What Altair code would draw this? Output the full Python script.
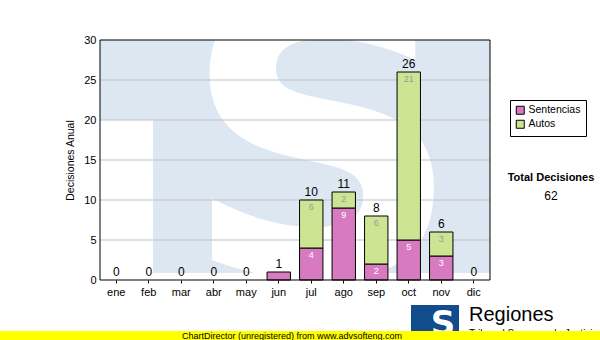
import altair as alt
import pandas as pd

months = ["ene", "feb", "mar", "abr", "may", "jun", "jul", "ago", "sep", "oct", "nov", "dic"]
sentencias = [0, 0, 0, 0, 0, 1, 4, 9, 2, 5, 3, 0]
autos = [0, 0, 0, 0, 0, 0, 6, 2, 6, 21, 3, 0]
series = ["Sentencias", "Autos"]
colors = ["#d87abf", "#cde593"]
y_ticks = [0, 5, 10, 15, 20, 25, 30]
grid_vals = [5, 10, 15, 20, 25]
total_title = "Total Decisiones"
y_title = "Decisiones Anual"
footer = "ChartDirector (unregistered) from www.advsofteng.com"
brand = "Regiones"
brand_sub = "Tribunal Supremo de Justicia"

FONT = "Liberation Sans"
W, H = 390, 240

rows = []
for m, s, a in zip(months, sentencias, autos):
    rows.append(dict(mes=m, serie="Sentencias", valor=s, ini=0, fin=s, ord=0))
    rows.append(dict(mes=m, serie="Autos", valor=a, ini=s, fin=s + a, ord=1))
df = pd.DataFrame(rows)
bars_df = df[df.valor > 0]
tot_df = pd.DataFrame({"mes": months, "total": [s + a for s, a in zip(sentencias, autos)]})
grid_df = pd.DataFrame({"g": grid_vals})
one = pd.DataFrame({"k": [0]})
grand_total = pd.DataFrame({"t": [str(sum(sentencias) + sum(autos))]})

xscale = alt.Scale(domain=months, paddingInner=0.28, paddingOuter=0.14)
yscale = alt.Scale(domain=[0, 30], nice=False)
yaxis = alt.Axis(values=y_ticks, grid=False, domain=False, ticks=False,
                 labelFont=FONT, labelFontSize=11, labelColor="black",
                 labelPadding=4, titleFont=FONT, titleFontSize=10.5,
                 titleFontWeight="normal", titleColor="black", titlePadding=8)

xenc = alt.X("mes:N", sort=months, scale=xscale,
             axis=alt.Axis(title=None, labelAngle=0, labelFont=FONT, labelFontSize=11,
                           labelColor="black", domain=False, ticks=True, tickSize=3,
                           tickColor="black", labelPadding=3))

# watermark
wm_blue = alt.Chart(one).mark_rect(color="#dde7f1").encode(
    x=alt.value(0), x2=alt.value(W), y=alt.value(0), y2=alt.value(233))
wm_white = alt.Chart(one).mark_rect(color="white").encode(
    x=alt.value(0), x2=alt.value(53), y=alt.value(80), y2=alt.value(H))
wm_s = alt.Chart(one).mark_text(text="S", font="DejaVu Sans", fontWeight="bold", fontSize=390,
                                color="white", clip=True, align="center",
                                baseline="alphabetic").encode(x=alt.value(222), y=alt.value(235))

grid = alt.Chart(grid_df).mark_rule(color="#c0c0c0", strokeWidth=1).encode(
    y=alt.Y("g:Q", scale=yscale, title=y_title, axis=yaxis))

bars = alt.Chart(bars_df).mark_bar(stroke="black", strokeWidth=1).encode(
    x=xenc,
    y=alt.Y("ini:Q", scale=yscale, title=y_title, axis=yaxis),
    y2="fin:Q",
    color=alt.Color("serie:N", scale=alt.Scale(domain=series, range=colors),
                    legend=alt.Legend(title=None, orient="none", legendX=410, legendY=60,
                                      fillColor="white", strokeColor="black", padding=5,
                                      symbolType="square", symbolSize=64,
                                      symbolStrokeColor="black", symbolStrokeWidth=1,
                                      labelFont=FONT, labelFontSize=10.5, labelColor="black",
                                      rowPadding=1, labelOffset=3)),
)

inner_s = alt.Chart(df[(df.serie == "Sentencias") & (df.valor >= 2)]).mark_text(
    font=FONT, fontSize=9, color="white", baseline="top", dy=3).encode(
    x=alt.X("mes:N", sort=months, scale=xscale),
    y=alt.Y("fin:Q", scale=yscale, title=y_title, axis=yaxis),
    text="valor:Q")
inner_a = alt.Chart(df[(df.serie == "Autos") & (df.valor >= 2)]).mark_text(
    font=FONT, fontSize=9, color="#9a9a9a", baseline="top", dy=3).encode(
    x=alt.X("mes:N", sort=months, scale=xscale),
    y=alt.Y("fin:Q", scale=yscale, title=y_title, axis=yaxis),
    text="valor:Q")
totals = alt.Chart(tot_df).mark_text(font=FONT, fontSize=12, color="black",
                                      baseline="bottom", dy=-1).encode(
    x=alt.X("mes:N", sort=months, scale=xscale),
    y=alt.Y("total:Q", scale=yscale, title=y_title, axis=yaxis),
    text="total:Q")

border = alt.Chart(one).mark_rect(fillOpacity=0, stroke="black", strokeWidth=1).encode(
    x=alt.value(0), x2=alt.value(W), y=alt.value(0), y2=alt.value(H))

tot_title = alt.Chart(one).mark_text(text=total_title, font=FONT, fontSize=11, fontWeight="bold",
                                     color="black", align="center", baseline="middle").encode(
    x=alt.value(451), y=alt.value(138))
tot_val = alt.Chart(grand_total).mark_text(font=FONT, fontSize=12, color="black",
                                           align="center", baseline="middle").encode(
    x=alt.value(451), y=alt.value(156), text="t:N")

logo_blue = alt.Chart(one).mark_rect(color="#124c8c").encode(
    x=alt.value(311), x2=alt.value(359), y=alt.value(265), y2=alt.value(291))
logo_s = alt.Chart(one).mark_text(text="S", font="DejaVu Sans", fontWeight="bold", fontSize=34,
                                  color="white", align="center", baseline="alphabetic").encode(
    x=alt.value(343), y=alt.value(295))
brand_t = alt.Chart(one).mark_text(text=brand, font=FONT, fontSize=20, color="black",
                                   align="left", baseline="alphabetic").encode(
    x=alt.value(369), y=alt.value(281))
brand_s = alt.Chart(one).mark_text(text=brand_sub, font=FONT, fontSize=10, color="black",
                                   align="left", baseline="middle").encode(
    x=alt.value(369), y=alt.value(294))
yellow = alt.Chart(one).mark_rect(color="#ffff00").encode(
    x=alt.value(-100), x2=alt.value(500), y=alt.value(291), y2=alt.value(300))
footer_t = alt.Chart(one).mark_text(text=footer, font=FONT, fontSize=9, color="black",
                                    align="center", baseline="middle").encode(
    x=alt.value(192), y=alt.value(296))

chart = alt.layer(
    wm_blue, wm_white, wm_s, grid, bars, inner_s, inner_a, totals, border,
    tot_title, tot_val, logo_blue, logo_s, brand_t, brand_s, yellow, footer_t,
).properties(
    width=W, height=H, background="white",
    autosize=alt.AutoSizeParams(type="none"),
    padding={"left": 100, "top": 40, "right": 110, "bottom": 60},
).configure_view(stroke=None)

chart.save("out.html", embed_options={"renderer": "svg", "actions": False})
